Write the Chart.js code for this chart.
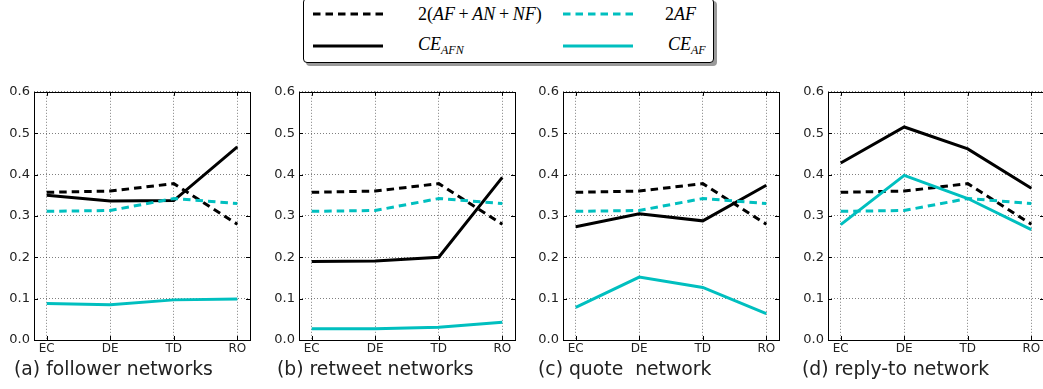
<!DOCTYPE html>
<html>
<head>
<meta charset="utf-8">
<script src="https://cdn.jsdelivr.net/npm/chart.js@4.4.1/dist/chart.umd.min.js"></script>
<style>
  html, body { margin: 0; padding: 0; background: #fff; }
  body { width: 1043px; height: 389px; position: relative; overflow: hidden; font-family: "DejaVu Sans", sans-serif; }
  .panel { position: absolute; top: 80px; height: 280px; }
  .caption { position: absolute; top: 360px; font-size: 18.8px; line-height: 18.8px; color: #222; white-space: pre; }
  .legend { position: absolute; left: 303px; top: -2px; width: 409px; height: 63px; border: 1px solid #000; border-radius: 4px;
            background: #fff; box-shadow: 3px 3px 0 #9a9a9a; font-family: "Liberation Serif", serif; font-size: 18px; }
  .legend svg { position: absolute; }
  .legend .lbl { position: absolute; line-height: 18px; white-space: nowrap; }
  .legend i { font-style: italic; }
  .legend sub { font-size: 12px; vertical-align: -4px; line-height: 0; }
</style>
</head>
<body>

<div class="legend">
  <svg style="left:8px;top:11px" width="72" height="8"><line x1="1" y1="4" x2="71" y2="4" stroke="#000" stroke-width="3" stroke-dasharray="7.5,5"/></svg>
  <div class="lbl" style="left:114px;top:6px">2(<i>AF</i>&#8201;+&#8201;<i>AN</i>&#8201;+&#8201;<i>NF</i>)</div>
  <svg style="left:258px;top:11px" width="72" height="8"><line x1="1" y1="4" x2="71" y2="4" stroke="#00bfbf" stroke-width="3" stroke-dasharray="7.5,5"/></svg>
  <div class="lbl" style="left:361px;top:6px">2<i>AF</i></div>
  <svg style="left:8px;top:43px" width="72" height="8"><line x1="1" y1="4" x2="71" y2="4" stroke="#000" stroke-width="3"/></svg>
  <div class="lbl" style="left:114px;top:36px"><i>CE</i><sub><i>AFN</i></sub></div>
  <svg style="left:258px;top:43px" width="72" height="8"><line x1="1" y1="4" x2="71" y2="4" stroke="#00bfbf" stroke-width="3"/></svg>
  <div class="lbl" style="left:364px;top:36px"><i>CE</i><sub><i>AF</i></sub></div>
</div>

<div class="panel" style="left:0px;width:256px"><canvas id="chartA"></canvas></div>
<div class="panel" style="left:265px;width:256px"><canvas id="chartB"></canvas></div>
<div class="panel" style="left:529px;width:256px"><canvas id="chartC"></canvas></div>
<div class="panel" style="left:794px;width:256px"><canvas id="chartD"></canvas></div>

<div class="caption" style="left:14px">(a) follower networks</div>
<div class="caption" style="left:277px">(b) retweet networks</div>
<div class="caption" style="left:538px">(c) quote  network</div>
<div class="caption" style="left:802px">(d) reply-to network</div>

<script>
const categories = ['EC', 'DE', 'TD', 'RO'];
const yTicks = [0.0, 0.1, 0.2, 0.3, 0.4, 0.5, 0.6];

// baselines, same in every panel
const twoAFANNF = [0.357, 0.360, 0.378, 0.280];
const twoAF = [0.311, 0.313, 0.342, 0.330];

const ceAFN_follower = [0.350, 0.336, 0.337, 0.467];
const ceAF_follower = [0.088, 0.085, 0.097, 0.099];

const ceAFN_retweet = [0.190, 0.191, 0.200, 0.393];
const ceAF_retweet = [0.027, 0.027, 0.031, 0.043];

const ceAFN_quote = [0.274, 0.305, 0.288, 0.374];
const ceAF_quote = [0.079, 0.152, 0.127, 0.064];

const ceAFN_reply = [0.428, 0.515, 0.462, 0.367];
const ceAF_reply = [0.279, 0.398, 0.342, 0.267];

const CYAN = '#00bfbf';

// full box + inward ticks like matplotlib
const boxPlugin = {
  id: 'box',
  afterDraw(chart) {
    const { ctx, chartArea: a, scales } = chart;
    ctx.save();
    ctx.strokeStyle = '#000';
    ctx.lineWidth = 1;
    ctx.beginPath();
    scales.y.ticks.forEach(t => {
      const y = Math.round(scales.y.getPixelForValue(t.value)) + 0.5;
      ctx.moveTo(a.left, y); ctx.lineTo(a.left + 4, y);
      ctx.moveTo(a.right, y); ctx.lineTo(a.right - 4, y);
    });
    scales.x.ticks.forEach(t => {
      const x = Math.round(scales.x.getPixelForValue(t.value)) + 0.5;
      ctx.moveTo(x, a.bottom); ctx.lineTo(x, a.bottom - 4);
      ctx.moveTo(x, a.top); ctx.lineTo(x, a.top + 4);
    });
    ctx.stroke();
    ctx.strokeRect(Math.round(a.left) + 0.5, Math.round(a.top) + 0.5,
                   Math.round(a.right - a.left), Math.round(a.bottom - a.top));
    ctx.restore();
  }
};

function series(values) {
  return values.map((y, i) => ({ x: i, y }));
}

function makeChart(id, ceAFN, ceAF) {
  const datasets = [
    { label: '2(AF+AN+NF)', data: series(twoAFANNF), borderColor: '#000', borderDash: [7.5, 5], order: 4 },
    { label: 'CE_AFN', data: series(ceAFN), borderColor: '#000', order: 3 },
    { label: '2AF', data: series(twoAF), borderColor: CYAN, borderDash: [7.5, 5], order: 2 },
    { label: 'CE_AF', data: series(ceAF), borderColor: CYAN, order: 1 }
  ];
  datasets.forEach(d => {
    d.borderWidth = 3;
    d.pointRadius = 0;
    d.tension = 0;
    d.fill = false;
  });

  return new Chart(document.getElementById(id), {
    type: 'line',
    data: { datasets },
    options: {
      responsive: true,
      maintainAspectRatio: false,
      animation: false,
      layout: { padding: { top: 7, right: 6, left: 0, bottom: 0 } },
      plugins: { legend: { display: false }, tooltip: { enabled: false } },
      scales: {
        x: {
          type: 'linear',
          min: -0.2,
          max: 3.2,
          afterBuildTicks: scale => { scale.ticks = categories.map((c, i) => ({ value: i })); },
          afterFit: scale => { scale.height = 20; },
          ticks: {
            autoSkip: false,
            maxRotation: 0,
            padding: 2,
            color: '#222',
            font: { family: 'DejaVu Sans', size: 12 },
            callback: v => categories[v]
          },
          grid: { color: 'rgba(0,0,0,0.5)', lineWidth: 1, drawTicks: false },
          border: { display: false, dash: [1, 2] }
        },
        y: {
          min: 0,
          max: 0.6,
          afterBuildTicks: scale => { scale.ticks = yTicks.map(v => ({ value: v })); },
          afterFit: scale => { scale.width = 34; },
          ticks: {
            padding: 4,
            color: '#222',
            font: { family: 'DejaVu Sans', size: 13 },
            callback: v => v.toFixed(1)
          },
          grid: { color: 'rgba(0,0,0,0.5)', lineWidth: 1, drawTicks: false },
          border: { display: false, dash: [1, 2] }
        }
      }
    },
    plugins: [boxPlugin]
  });
}

makeChart('chartA', ceAFN_follower, ceAF_follower);
makeChart('chartB', ceAFN_retweet, ceAF_retweet);
makeChart('chartC', ceAFN_quote, ceAF_quote);
makeChart('chartD', ceAFN_reply, ceAF_reply);
</script>
</body>
</html>
